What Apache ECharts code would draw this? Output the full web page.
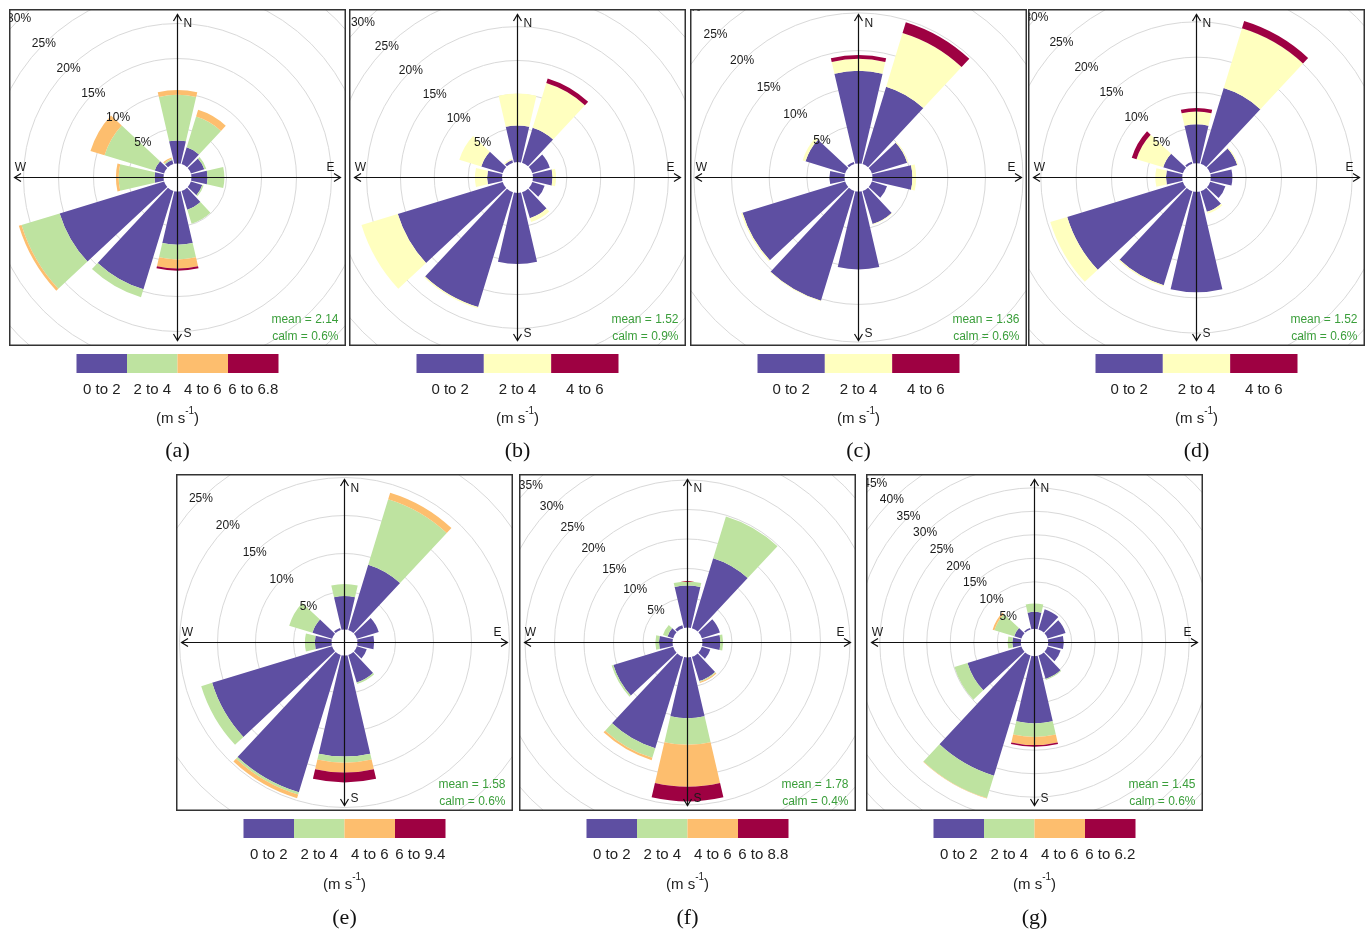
<!DOCTYPE html>
<html>
<head>
<meta charset="utf-8">
<title>Wind roses (a)–(g)</title>
<script src="https://cdn.jsdelivr.net/npm/echarts/dist/echarts.min.js"></script>
<style>
  html, body { margin: 0; padding: 0; background: #fff; }
  #page { position: relative; width: 1366px; height: 932px; overflow: hidden; }
  #keys { position: absolute; left: 0; top: 0; width: 1366px; height: 932px; }
  .rose { position: absolute; width: 337px; height: 337px; overflow: hidden; z-index: 2; }
</style>
</head>
<body>
<div id="page"><div id="keys"></div></div>
<script>
// Direction sectors, clockwise from north (30 degree bins)
const sectors = ['N', '30', '60', 'E', '120', '150', 'S', '210', '240', 'W', '300', '330'];

// Frequency (%) of each speed class per sector
const a_0to2 = [3.3, 2.5, 2.0, 2.3, 1.7, 2.8, 7.6, 14.7, 15.6, 1.3, 1.4, 0.6];
const a_2to4 = [6.5, 4.6, 0.3, 2.4, 0.2, 2.1, 2.1, 1.2, 5.7, 5.1, 7.5, 0.2];
const a_4to6 = [0.7, 1.0, 0, 0, 0, 0, 1.3, 0, 0.4, 0.4, 2.1, 0.2];
const a_6up  = [0, 0, 0, 0, 0, 0, 0.3, 0, 0, 0, 0, 0];

const b_0to2 = [5.4, 5.4, 2.7, 2.9, 1.9, 4.0, 10.5, 17.7, 16.2, 2.2, 3.3, 0.4];
const b_2to4 = [4.7, 6.9, 0, 0.5, 0, 0.6, 0, 0.2, 5.6, 1.8, 3.4, 0.2];
const b_4to6 = [0, 0.7, 0, 0, 0, 0, 0, 0, 0, 0, 0, 0];

const c_0to2 = [12.3, 10.75, 4.9, 5.3, 2.1, 4.6, 10.35, 15.25, 14.25, 2.0, 5.5, 0.3];
const c_2to4 = [1.6, 7.45, 0.15, 0.5, 0, 0.1, 0, 0.1, 0.2, 0, 0.4, 0];
const c_4to6 = [0.5, 1.5, 0, 0, 0, 0, 0, 0, 0, 0, 0, 0];

const d_0to2 = [5.5, 11.2, 4.0, 3.05, 2.25, 3.05, 14.2, 13.9, 17.1, 2.3, 2.9, 0.3];
const d_2to4 = [1.8, 8.85, 0.15, 0, 0, 0.3, 0, 0.2, 2.5, 1.5, 3.95, 0];
const d_4to6 = [0.5, 1.05, 0, 0, 0, 0, 0, 0, 0, 0, 0.7, 0];

const e_0to2 = [4.4, 9.0, 3.0, 2.2, 1.35, 3.8, 13.3, 18.9, 16.5, 2.2, 2.7, 0.3];
const e_2to4 = [1.6, 9.0, 0, 0, 0, 0.2, 0.8, 0.3, 1.5, 1.3, 3.2, 0];
const e_4to6 = [0, 0.9, 0, 0, 0, 0, 1.3, 0.5, 0, 0, 0, 0];
const e_6up  = [0, 0, 0, 0, 0, 0, 1.3, 0, 0, 0, 0, 0];

const f_0to2 = [7.1, 12.4, 3.2, 3.05, 1.5, 4.3, 10.3, 16.2, 10.6, 2.3, 1.0, 0.5];
const f_2to4 = [0.7, 7.4, 0, 0.45, 0, 0.15, 4.5, 1.7, 0.3, 0.6, 0.8, 0];
const f_4to6 = [0, 0, 0, 0, 0, 0.2, 7.1, 0.4, 0, 0, 0, 0];
const f_6up  = [0, 0, 0, 0, 0, 0, 2.5, 0, 0, 0, 0, 0];

const g_0to2 = [3.6, 4.5, 4.0, 3.3, 2.9, 5.2, 14.3, 26.7, 12.0, 1.8, 1.6, 0.3];
const g_2to4 = [1.8, 0, 0, 0, 0, 0.2, 2.9, 5.0, 2.9, 1.0, 4.4, 0];
const g_4to6 = [0, 0, 0, 0, 0, 0, 1.7, 0.1, 0, 0, 0.4, 0];
const g_6up  = [0, 0, 0, 0, 0, 0, 0.35, 0, 0, 0, 0, 0];

// Summary statistics printed in each rose
const meanSpeed = ['2.14', '1.52', '1.36', '1.52', '1.58', '1.78', '1.45'];
const calmPct   = ['0.6', '0.9', '0.6', '0.6', '0.6', '0.4', '0.6'];

// Speed-class key labels (m s-1)
const keyA = ['0 to 2', '2 to 4', '4 to 6', '6 to 6.8'];
const keyB = ['0 to 2', '2 to 4', '4 to 6'];
const keyC = ['0 to 2', '2 to 4', '4 to 6'];
const keyD = ['0 to 2', '2 to 4', '4 to 6'];
const keyE = ['0 to 2', '2 to 4', '4 to 6', '6 to 9.4'];
const keyF = ['0 to 2', '2 to 4', '4 to 6', '6 to 8.8'];
const keyG = ['0 to 2', '2 to 4', '4 to 6', '6 to 6.2'];

const panelLetters = ['(a)', '(b)', '(c)', '(d)', '(e)', '(f)', '(g)'];

// ---- styling ----
const FONT = '"Liberation Sans", Arial, Helvetica, sans-serif';
const SERIF = '"Liberation Serif", "Times New Roman", serif';
const PURPLE = '#5E4FA2', GREEN = '#BEE3A0', ORANGE = '#FDBE6E', RED = '#9E0142', YELLOW = '#FFFFBF';
const FOUR = [PURPLE, GREEN, ORANGE, RED];
const THREE = [PURPLE, YELLOW, RED];
const AXIS_MAX = 50;       // outermost grid ring (%)
const BOX = 337;           // panel frame size (px)

// Rose panels: series, colours, key, frame position and radial scale
const panels = [
  { series: [a_0to2, a_2to4, a_4to6, a_6up], colors: FOUR,  key: keyA, left: 9,    top: 9,   hole: 14,   k: 7.0,  row: 0 },
  { series: [b_0to2, b_2to4, b_4to6],        colors: THREE, key: keyB, left: 349,  top: 9,   hole: 15.5, k: 6.77, row: 0 },
  { series: [c_0to2, c_2to4, c_4to6],        colors: THREE, key: keyC, left: 690,  top: 9,   hole: 14,   k: 7.53, row: 0 },
  { series: [d_0to2, d_2to4, d_4to6],        colors: THREE, key: keyD, left: 1028, top: 9,   hole: 14.3, k: 7.07, row: 0 },
  { series: [e_0to2, e_2to4, e_4to6, e_6up], colors: FOUR,  key: keyE, left: 176,  top: 474, hole: 13,   k: 7.6,  row: 1 },
  { series: [f_0to2, f_2to4, f_4to6, f_6up], colors: FOUR,  key: keyF, left: 519,  top: 474, hole: 15,   k: 5.9,  row: 1 },
  { series: [g_0to2, g_2to4, g_4to6, g_6up], colors: FOUR,  key: keyG, left: 866,  top: 474, hole: 13.7, k: 4.7,  row: 1 }
];

// Compass cross with open arrow heads, cardinal letters, frame and summary text
function roseDecorations(C, mean, calm) {
  const L = 163, hw = 4, hl = 6.5;
  const line = { stroke: '#111', lineWidth: 1.2 };
  const txt = (text, x, y, align, extra) => ({
    type: 'text', x: x, y: y, z: 100, silent: true,
    style: Object.assign({ text: text, fontSize: 12, fontFamily: FONT, fill: '#1a1a1a', align: align, verticalAlign: 'middle' }, extra || {})
  });
  return [
    { type: 'rect', z: 100, silent: true, shape: { x: 0.75, y: 0.75, width: BOX - 1.5, height: BOX - 1.5 },
      style: { fill: 'none', stroke: '#333', lineWidth: 1.5 } },
    { type: 'line', z: 100, silent: true, shape: { x1: C, y1: C - L, x2: C, y2: C + L }, style: line },
    { type: 'line', z: 100, silent: true, shape: { x1: C - L, y1: C, x2: C + L, y2: C }, style: line },
    { type: 'polyline', z: 100, silent: true, shape: { points: [[C - hw, C - L + hl], [C, C - L], [C + hw, C - L + hl]] }, style: line },
    { type: 'polyline', z: 100, silent: true, shape: { points: [[C - hw, C + L - hl], [C, C + L], [C + hw, C + L - hl]] }, style: line },
    { type: 'polyline', z: 100, silent: true, shape: { points: [[C - L + hl, C - hw], [C - L, C], [C - L + hl, C + hw]] }, style: line },
    { type: 'polyline', z: 100, silent: true, shape: { points: [[C + L - hl, C - hw], [C + L, C], [C + L - hl, C + hw]] }, style: line },
    txt('N', C + 6, C - 154, 'left'),
    txt('S', C + 6, C + 156, 'left'),
    txt('W', C - 157, C - 10, 'center'),
    txt('E', C + 153, C - 10, 'center'),
    txt('mean = ' + mean, C + 161, C + 142, 'right', { fill: '#3a9e3a' }),
    txt('calm = ' + calm + '%', C + 161, C + 159.5, 'right', { fill: '#3a9e3a' })
  ];
}

function buildRose(p, idx) {
  const el = document.createElement('div');
  el.className = 'rose';
  el.style.left = p.left + 'px';
  el.style.top = p.top + 'px';
  document.getElementById('page').appendChild(el);
  const chart = echarts.init(el, null, { renderer: 'canvas', width: BOX, height: BOX });
  const C = BOX / 2;
  const outer = p.hole + p.k * AXIS_MAX;
  const ringCount = AXIS_MAX / 5;
  const ringColors = ['rgba(0,0,0,0)'].concat(new Array(ringCount).fill('#d9d9d9'));
  const hidden = { axisLine: { show: false }, axisTick: { show: false }, axisLabel: { show: false }, splitLine: { show: false } };

  chart.setOption({
    animation: false,
    backgroundColor: '#fff',
    polar: [
      { center: [C, C], radius: [p.hole, outer] },
      { center: [C, C], radius: [p.hole, outer] }
    ],
    angleAxis: [
      Object.assign({ polarIndex: 0, type: 'category', data: sectors, startAngle: 105, clockwise: true, boundaryGap: true }, hidden),
      Object.assign({ polarIndex: 1, type: 'value', min: 0, max: 360, startAngle: 135, clockwise: true }, hidden)
    ],
    radiusAxis: [
      { polarIndex: 0, type: 'value', min: 0, max: AXIS_MAX, interval: 5, z: 1,
        axisLine: { show: false }, axisTick: { show: false }, axisLabel: { show: false },
        splitLine: { show: true, lineStyle: { color: ringColors, width: 1 } } },
      { polarIndex: 1, type: 'value', min: 0, max: AXIS_MAX, interval: 5, z: 10,
        axisLine: { show: false }, axisTick: { show: false }, splitLine: { show: false },
        axisLabel: { show: true, margin: 0, align: 'center', verticalAlign: 'middle',
          fontSize: 12, fontFamily: FONT, color: '#1a1a1a',
          formatter: v => (v === 0 ? '' : v + '%') } }
    ],
    series: p.series.map((vals, i) => ({
      type: 'bar', coordinateSystem: 'polar', polarIndex: 0, stack: 'rose',
      data: vals, barCategoryGap: '13%', z: 2, silent: true,
      itemStyle: { color: p.colors[i] }
    })),
    graphic: roseDecorations(C, meanSpeed[idx], calmPct[idx])
  });
}

panels.forEach(buildRose);

// Colour keys, units and panel letters underneath each rose
const keyChart = echarts.init(document.getElementById('keys'), null, { renderer: 'canvas', width: 1366, height: 932 });
const rows = [
  { barTop: 354, labelY: 389.5, unitY: 416, letterY: 451 },
  { barTop: 819, labelY: 855, unitY: 882, letterY: 918.5 }
];
const keyWidth = 202, keyHeight = 19;
const keyElements = [];
panels.forEach((p, idx) => {
  const cx = p.left + BOX / 2;
  const r = rows[p.row];
  const n = p.key.length;
  const seg = keyWidth / n;
  p.key.forEach((lab, j) => {
    const x0 = cx - keyWidth / 2 + j * seg;
    keyElements.push({ type: 'rect', silent: true, shape: { x: x0, y: r.barTop, width: seg, height: keyHeight },
      style: { fill: p.colors[j], stroke: null } });
    keyElements.push({ type: 'text', silent: true, x: x0 + seg / 2, y: r.labelY,
      style: { text: lab, fontSize: 15, fontFamily: FONT, fill: '#222', align: 'center', verticalAlign: 'middle' } });
  });
  keyElements.push({ type: 'text', silent: true, x: cx, y: r.unitY,
    style: { text: '{u|(m s}{s|-1}{u|)}', align: 'center', verticalAlign: 'middle',
      rich: { u: { fontSize: 15, fontFamily: FONT, fill: '#222', lineHeight: 20, verticalAlign: 'bottom' },
              s: { fontSize: 10, fontFamily: FONT, fill: '#222', verticalAlign: 'top' } } } });
  keyElements.push({ type: 'text', silent: true, x: cx, y: r.letterY,
    style: { text: panelLetters[idx], fontSize: 22, fontFamily: SERIF, fill: '#111', align: 'center', verticalAlign: 'middle' } });
});
keyChart.setOption({ animation: false, backgroundColor: '#fff', graphic: keyElements });
</script>
</body>
</html>
